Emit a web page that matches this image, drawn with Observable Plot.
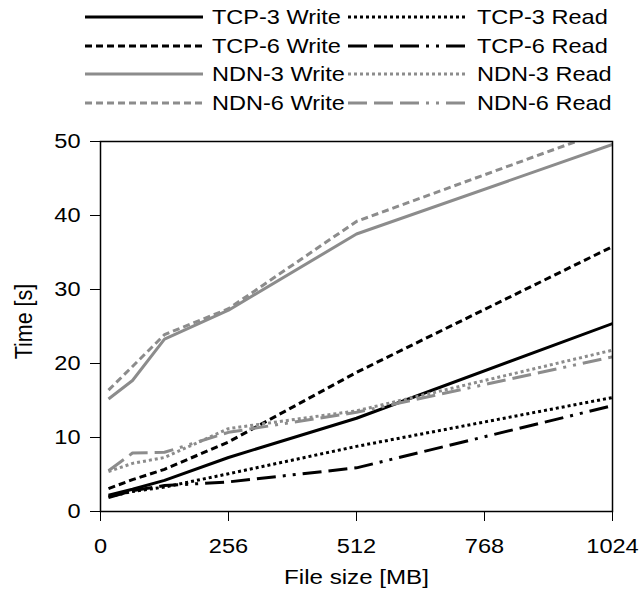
<!DOCTYPE html>
<html>
<head>
<meta charset="utf-8">
<script src="https://cdn.jsdelivr.net/npm/d3@7"></script>
<script src="https://cdn.jsdelivr.net/npm/@observablehq/plot@0.6"></script>
<style>
  html, body { margin: 0; padding: 0; background: #fff; }
  #wrap { width: 642px; height: 590px; position: relative; font-family: "Liberation Sans", Arial, sans-serif; }
  #legend { position: relative; width: 642px; height: 120px; }
  .item { position: absolute; height: 24px; display: flex; align-items: center; }
  .item span { font-size: 21px; color: #000; white-space: nowrap; display: inline-block;
               transform: scaleX(1.12); transform-origin: left center; }
  #chart svg { display: block; }
</style>
</head>
<body>
<div id="wrap">
  <div id="legend"></div>
  <div id="chart"></div>
</div>
<script>
// ---- data ----
const fileSizes = [16, 64, 128, 256, 512, 1024];           // MB
const tcp3Write = [2.2, 3.0, 4.2, 7.3, 12.6, 25.4];
const tcp6Write = [3.1, 4.3, 5.7, 9.4, 18.8, 35.8];
const ndn3Write = [15.2, 17.7, 23.3, 27.2, 37.5, 49.6];
const ndn6Write = [16.4, 19.6, 23.9, 27.4, 39.2, 51.8];
const tcp3Read  = [2.0, 2.7, 3.3, 5.1, 8.8, 15.4];
const tcp6Read  = [1.9, 2.8, 3.5, 4.0, 5.9, 14.3];
const ndn3Read  = [5.4, 6.5, 7.3, 11.2, 13.6, 21.8];
const ndn6Read  = [5.5, 7.9, 8.0, 10.7, 13.4, 20.9];
const xTicks = [0, 256, 512, 768, 1024];
const yTicks = [0, 10, 20, 30, 40, 50];
const xLabel = "File size [MB]";
const yLabel = "Time [s]";
const seriesNames = ["TCP-3 Write", "TCP-3 Read", "TCP-6 Write", "TCP-6 Read",
                     "NDN-3 Write", "NDN-3 Read", "NDN-6 Write", "NDN-6 Read"];
const seriesValues = [tcp3Write, tcp3Read, tcp6Write, tcp6Read,
                      ndn3Write, ndn3Read, ndn6Write, ndn6Read];

// ---- styles ----
const BLACK = "#000000", GRAY = "#8c8c8c";
const SOLID = null, DASH = "7,4", DOT = "3,3", DASHDOT = "19,7,19,7,19,7,3,7,3,7";
const styles = {
  "TCP-3 Write": {stroke: BLACK, dash: SOLID},
  "TCP-3 Read":  {stroke: BLACK, dash: DOT},
  "TCP-6 Write": {stroke: BLACK, dash: DASH},
  "TCP-6 Read":  {stroke: BLACK, dash: DASHDOT},
  "NDN-3 Write": {stroke: GRAY, dash: SOLID},
  "NDN-3 Read":  {stroke: GRAY, dash: DOT},
  "NDN-6 Write": {stroke: GRAY, dash: DASH},
  "NDN-6 Read":  {stroke: GRAY, dash: DASHDOT}
};

// table for Plot
const rows = seriesNames.flatMap((name, i) =>
  fileSizes.map((x, j) => ({series: name, size: x, time: seriesValues[i][j]})));

// ---- legend ----
const legend = document.getElementById("legend");
const colX = [{line: 85, len: 118, text: 212}, {line: 348, len: 117, text: 477}];
seriesNames.forEach((name, i) => {
  const col = i % 2, row = Math.floor(i / 2);
  const cy = 17 + row * 28.5;
  const st = styles[name];
  const div = document.createElement("div");
  div.className = "item";
  div.style.left = colX[col].line + "px";
  div.style.top = (cy - 12) + "px";
  const ns = "http://www.w3.org/2000/svg";
  const svg = document.createElementNS(ns, "svg");
  const w = colX[col].text - colX[col].line;
  svg.setAttribute("width", w);
  svg.setAttribute("height", 24);
  const ln = document.createElementNS(ns, "line");
  ln.setAttribute("x1", 0); ln.setAttribute("x2", colX[col].len);
  ln.setAttribute("y1", 12); ln.setAttribute("y2", 12);
  ln.setAttribute("stroke", st.stroke);
  ln.setAttribute("stroke-width", 3);
  if (st.dash) ln.setAttribute("stroke-dasharray", st.dash);
  svg.appendChild(ln);
  div.appendChild(svg);
  const sp = document.createElement("span");
  sp.textContent = name;
  div.appendChild(sp);
  legend.appendChild(div);
});

// ---- chart ----
const marks = seriesNames.map(name => Plot.line(rows.filter(d => d.series === name), {
  x: "size", y: "time",
  stroke: styles[name].stroke,
  strokeWidth: 3,
  strokeDasharray: styles[name].dash,
  strokeLinecap: "butt",
  strokeLinejoin: "round",
  clip: true
}));

const chart = Plot.plot({
  width: 642,
  height: 470,
  marginTop: 21,
  marginBottom: 79,
  marginLeft: 100,
  marginRight: 30,
  style: {fontSize: "20.5px", fontFamily: "'Liberation Sans', Arial, sans-serif", color: "#000", background: "#fff"},
  x: {domain: [0, 1024]},
  y: {domain: [0, 50]},
  marks: [
    Plot.axisX({ticks: xTicks, tickSize: 10, tickPadding: 17, tickFormat: d => String(d), label: null, fontSize: 20.5}),
    Plot.axisY({ticks: yTicks, tickSize: 10, tickPadding: 10, tickFormat: d => String(d), label: null, fontSize: 20.5}),
    Plot.text([xLabel], {frameAnchor: "bottom", lineAnchor: "middle", textAnchor: "middle", text: d => d, dy: 66, fontSize: 21}),
    Plot.text([yLabel], {frameAnchor: "left", lineAnchor: "middle", textAnchor: "middle", text: d => d, rotate: -90, dx: -76, dy: -5, fontSize: 21.5}),
    ...marks,
    Plot.frame({stroke: "#000", strokeWidth: 1.5})
  ]
});

// widen glyphs horizontally to match the reference's text proportions
const K = 1.15;
chart.querySelectorAll("text").forEach(t => {
  const tr = t.getAttribute("transform");
  if (!tr) return;
  t.setAttribute("transform", tr + (/rotate\(-?90/.test(tr) ? ` scale(1,${K})` : ` scale(${K},1)`));
});
document.getElementById("chart").appendChild(chart);
</script>
</body>
</html>
